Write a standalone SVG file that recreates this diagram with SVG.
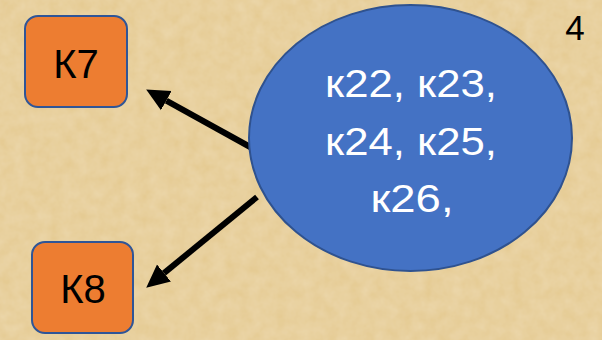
<svg xmlns="http://www.w3.org/2000/svg" width="602" height="340" viewBox="0 0 602 340">
<style>
.box{fill:#ED7D31;stroke:#2F5597;stroke-width:2}
.lbl{font-family:"Liberation Sans","Open Sans",sans-serif;font-size:40px;fill:#000;text-anchor:middle}
.wt{font-family:"Liberation Sans","Open Sans",sans-serif;font-size:38px;fill:#fff;text-anchor:middle}
.con{stroke:#000;stroke-width:6;fill:none;marker-end:url(#ah)}
</style>
<defs>
<marker id="ah" markerUnits="userSpaceOnUse" markerWidth="24" markerHeight="24" refX="0" refY="11" orient="auto" viewBox="0 0 24 22">
<path d="M0,0 L23,11 L0,22 z" fill="#000"/>
</marker>
<filter id="tex" x="0" y="0" width="100%" height="100%">
<feTurbulence type="fractalNoise" baseFrequency="0.08" numOctaves="3" seed="4"/>
<feColorMatrix type="matrix" values="0 0 0 0 0.95  0 0 0 0 0.85  0 0 0 0 0.65  0 0 0 0.35 0"/>
<feComposite in2="SourceGraphic" operator="over"/>
</filter>
</defs>
<rect width="602" height="340" fill="#E4C98F"/>
<rect width="602" height="340" fill="#E4C98F" filter="url(#tex)"/>
<g id="connectors">
<line class="con" x1="252" y1="148" x2="166.3" y2="100.6"/>
<line class="con" x1="257" y1="197" x2="164" y2="273.1"/>
</g>
<g id="K7">
<rect class="box" x="25" y="16" width="102" height="91" rx="13"/>
<text class="lbl" x="76" y="78">К7</text>
</g>
<g id="K8">
<rect class="box" x="32" y="242" width="101" height="91" rx="13"/>
<text class="lbl" x="83" y="303">К8</text>
</g>
<g id="center">
<ellipse cx="410.5" cy="138" rx="161.5" ry="133" fill="#4472C4" stroke="#2F528F" stroke-width="2"/>
<text class="wt" x="411" y="97" textLength="172" lengthAdjust="spacingAndGlyphs">к22, к23,</text>
<text class="wt" x="411" y="155" textLength="172" lengthAdjust="spacingAndGlyphs">к24, к25,</text>
<text class="wt" x="412" y="212" textLength="83" lengthAdjust="spacingAndGlyphs">к26,</text>
</g>
<g id="num">
<text x="575" y="40" font-family="Liberation Sans, sans-serif" font-size="35" text-anchor="middle" fill="#000">4</text>
</g>
</svg>
